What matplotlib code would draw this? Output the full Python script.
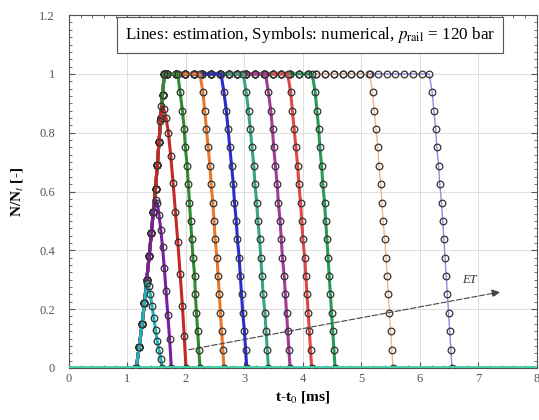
import matplotlib
matplotlib.use('Agg')
import matplotlib.pyplot as plt
from matplotlib.ticker import MultipleLocator

plt.rcParams['font.family'] = ['Liberation Serif', 'DejaVu Serif']
plt.rcParams['mathtext.fontset'] = 'stix'

# common rising edge (all injections)
t_rise = [1.15, 1.20, 1.25, 1.29, 1.33, 1.37, 1.41, 1.44, 1.48, 1.51, 1.54, 1.57, 1.60, 1.63]
n_rise = [0.0, 0.07, 0.15, 0.22, 0.30, 0.38, 0.46, 0.53, 0.61, 0.69, 0.77, 0.85, 0.93, 1.0]

# plateau samples at N/Nt = 1
t_top = [1.68, 1.83, 1.98, 2.13, 2.28, 2.43, 2.58, 2.73, 2.88, 3.03, 3.18, 3.33, 3.48,
         3.63, 3.78, 3.93, 4.08, 4.23, 4.38, 4.53, 4.68, 4.83, 4.98, 5.13, 5.28, 5.43,
         5.58, 5.73, 5.88, 6.03]

# closing edge levels shared by the full-lift curves
n_fall = [1.0, 0.9375, 0.875, 0.8125, 0.75, 0.6875, 0.625, 0.5625, 0.5, 0.4375,
          0.375, 0.3125, 0.25, 0.1875, 0.125, 0.0625, 0.0]

# closing edge times, one row per full-lift curve
t_fall = [
    [1.86, 1.90, 1.94, 1.97, 1.99, 2.02, 2.04, 2.06, 2.08, 2.10, 2.12, 2.15, 2.16, 2.18, 2.20, 2.22, 2.24],
    [2.24, 2.29, 2.32, 2.35, 2.38, 2.41, 2.43, 2.46, 2.48, 2.50, 2.53, 2.55, 2.57, 2.59, 2.61, 2.63, 2.65],
    [2.60, 2.65, 2.69, 2.72, 2.75, 2.78, 2.81, 2.83, 2.86, 2.88, 2.91, 2.93, 2.95, 2.97, 3.00, 3.02, 3.04],
    [2.98, 3.03, 3.07, 3.10, 3.13, 3.16, 3.18, 3.21, 3.23, 3.26, 3.28, 3.30, 3.32, 3.35, 3.37, 3.39, 3.41],
    [3.36, 3.41, 3.45, 3.48, 3.50, 3.53, 3.56, 3.58, 3.61, 3.63, 3.65, 3.68, 3.70, 3.72, 3.74, 3.76, 3.78],
    [3.74, 3.79, 3.82, 3.85, 3.88, 3.91, 3.93, 3.96, 3.98, 4.00, 4.03, 4.05, 4.07, 4.09, 4.11, 4.13, 4.15],
    [4.16, 4.21, 4.24, 4.27, 4.29, 4.32, 4.34, 4.37, 4.39, 4.41, 4.43, 4.45, 4.47, 4.49, 4.51, 4.53, 4.55],
    [5.14, 5.19, 5.22, 5.25, 5.28, 5.30, 5.33, 5.35, 5.37, 5.40, 5.42, 5.44, 5.46, 5.48, 5.50, 5.52, 5.54],
    [6.16, 6.21, 6.24, 6.27, 6.29, 6.32, 6.34, 6.37, 6.39, 6.41, 6.43, 6.45, 6.47, 6.49, 6.51, 6.53, 6.55],
]
full_colors = ['#2e8b2e', '#e8782a', '#2b2bd0', '#3aa57a', '#a03c96', '#e04848',
               '#2a9a5a', '#f2b48a', '#8c8ce0']
full_lw = [2.2, 2.2, 2.2, 2.2, 2.2, 2.2, 2.2, 1, 1]

# partial-lift (ballistic) curves
t_cyan = [1.15, 1.20, 1.25, 1.29, 1.33, 1.36, 1.39, 1.42, 1.45, 1.48, 1.51, 1.54, 1.57, 1.59]
n_cyan = [0.0, 0.07, 0.15, 0.22, 0.29, 0.28, 0.25, 0.21, 0.17, 0.13, 0.09, 0.06, 0.03, 0.0]
t_purple = [1.15, 1.20, 1.25, 1.29, 1.33, 1.37, 1.41, 1.44, 1.48, 1.51, 1.54, 1.57, 1.60,
            1.63, 1.66, 1.69, 1.72, 1.75]
n_purple = [0.0, 0.07, 0.15, 0.22, 0.30, 0.38, 0.46, 0.53, 0.57, 0.56, 0.52, 0.47, 0.41,
            0.34, 0.26, 0.18, 0.10, 0.0]
t_red = [1.15, 1.20, 1.25, 1.29, 1.33, 1.37, 1.41, 1.44, 1.48, 1.51, 1.54, 1.56, 1.58,
         1.62, 1.66, 1.70, 1.74, 1.78, 1.82, 1.86, 1.90, 1.94, 1.97, 2.00]
n_red = [0.0, 0.07, 0.15, 0.22, 0.30, 0.38, 0.46, 0.53, 0.61, 0.69, 0.77, 0.84, 0.89,
         0.88, 0.85, 0.80, 0.72, 0.63, 0.53, 0.43, 0.32, 0.21, 0.11, 0.0]

t_span = [0, 8]
n_zero = [0, 0]

fig = plt.figure(figsize=(5.39, 4.2), dpi=100)
ax = fig.add_axes([0.128, 0.124, 0.868, 0.840])

mk = dict(marker='o', markersize=4.8, markerfacecolor='none',
          markeredgecolor='#333333', markeredgewidth=0.9)

for i, tf in enumerate(t_fall):
    ts = tf[0]
    flat = [t for t in t_top if t < ts - 0.05]
    t = t_rise + flat + tf
    n = n_rise + [1.0] * len(flat) + n_fall
    ax.plot(t, n, color=full_colors[i], lw=full_lw[i], zorder=3 + (9 - i) * 0.01, **mk)

ax.plot(t_red, n_red, color='#c62828', lw=2.2, zorder=3.2, **mk)
ax.plot(t_purple, n_purple, color='#7b1fa2', lw=2.2, zorder=3.3, **mk)
ax.plot(t_cyan, n_cyan, color='#1fb5b5', lw=2.2, zorder=3.4, **mk)

ax.plot(t_span, n_zero, color='#40d0a8', lw=3.5, zorder=5)

# ET arrow
ax.annotate('', xy=(7.42, 0.26), xytext=(2.0, 0.06),
            arrowprops=dict(arrowstyle='-|>', color='#444444', lw=0.8,
                            linestyle=(0, (5, 2)), mutation_scale=12), zorder=6)
ax.text(6.85, 0.30, 'ET', fontsize=9, style='italic', color='#333333',
        ha='center', va='center')

ax.text(0.515, 0.944, r'Lines: estimation, Symbols: numerical, $p_{\mathrm{rail}}$ = 120 bar',
        transform=ax.transAxes, ha='center', va='center', fontsize=12.3,
        bbox=dict(boxstyle='square,pad=0.45', facecolor='white', edgecolor='#555555', lw=0.8))

ax.set_xlim(0, 8)
ax.set_ylim(0, 1.2)
ax.set_xticks(range(0, 9))
ax.set_yticks([0, 0.2, 0.4, 0.6, 0.8, 1.0, 1.2])
ax.set_yticklabels(['0', '0.2', '0.4', '0.6', '0.8', '1', '1.2'])
ax.xaxis.set_minor_locator(MultipleLocator(0.2))
ax.yaxis.set_minor_locator(MultipleLocator(0.025))
ax.tick_params(which='both', direction='in', top=True, right=True, labelsize=9,
               labelcolor='#555555', color='#555555')
ax.tick_params(axis='y', which='major', pad=10)
ax.tick_params(which='major', length=4)
ax.tick_params(which='minor', length=2)
ax.grid(True, which='major', color='#dddddd', lw=0.7)
ax.set_axisbelow(True)
for s in ax.spines.values():
    s.set_color('#555555')
    s.set_linewidth(0.8)

ax.set_xlabel(r't-t$_0$ [ms]', fontsize=11, fontweight='bold', labelpad=3)
ax.set_ylabel(r'N/N$_t$ [-]', fontsize=11, fontweight='bold', labelpad=10)

fig.savefig('out.png', dpi=100)
